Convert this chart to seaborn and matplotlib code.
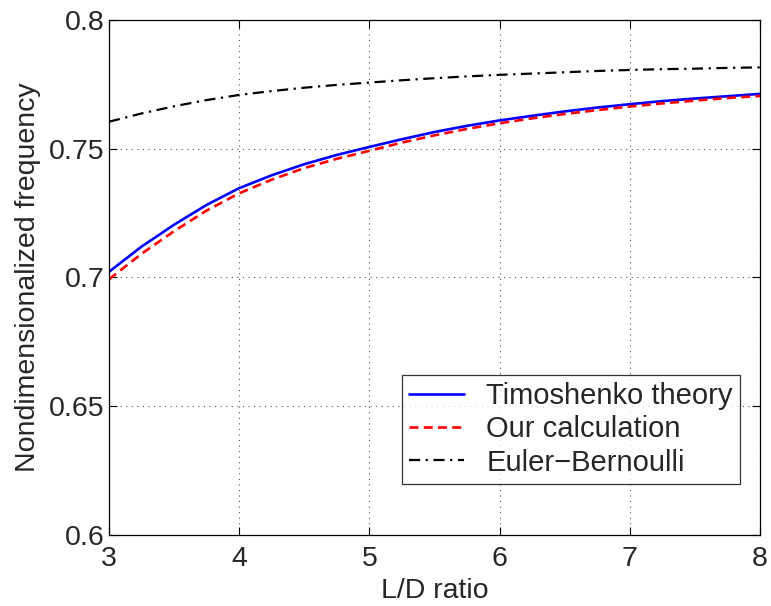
import numpy as np
import pandas as pd
import matplotlib
matplotlib.use("Agg")
import matplotlib.pyplot as plt
import seaborn as sns

# --- data ---
ld_ratio = [3, 3.25, 3.5, 3.75, 4, 4.25, 4.5, 4.75, 5, 5.25, 5.5, 5.75,
            6, 6.25, 6.5, 6.75, 7, 7.25, 7.5, 7.75, 8]
timoshenko = [0.7022, 0.7120, 0.7205, 0.7282, 0.7347, 0.7397, 0.7440, 0.7476,
              0.7507, 0.7537, 0.7565, 0.7589, 0.7610, 0.7628, 0.7645, 0.7660,
              0.7673, 0.7685, 0.7695, 0.7704, 0.7713]
our_calc = [0.6993, 0.7092, 0.7180, 0.7260, 0.7327, 0.7380, 0.7425, 0.7461,
            0.7492, 0.7524, 0.7552, 0.7577, 0.7599, 0.7618, 0.7635, 0.7650,
            0.7664, 0.7676, 0.7687, 0.7697, 0.7705]
euler_bernoulli = [0.7605, 0.7637, 0.7665, 0.7689, 0.7709, 0.7724, 0.7737, 0.7748,
                   0.7757, 0.7766, 0.7774, 0.7781, 0.7787, 0.7792, 0.7797, 0.7802,
                   0.7806, 0.7809, 0.7811, 0.7814, 0.7816]

x_ticks = [3, 4, 5, 6, 7, 8]
y_ticks = [0.6, 0.65, 0.7, 0.75, 0.8]
y_tick_labels = ["0.6", "0.65", "0.7", "0.75", "0.8"]

sns.set_style("white")
plt.rcParams["font.family"] = ["Liberation Sans", "DejaVu Sans"]

fig = plt.figure(figsize=(7.71, 6.06), dpi=100)
ax = fig.add_axes([0.1414, 0.1172, 0.8443, 0.8498])

sns.lineplot(x=ld_ratio, y=timoshenko, ax=ax, color="#0000ff", linewidth=1.9,
             label="Timoshenko theory")
sns.lineplot(x=ld_ratio, y=our_calc, ax=ax, color="#ff0000", linewidth=1.9,
             linestyle=(0, (3.4, 2.0)), label="Our calculation")
sns.lineplot(x=ld_ratio, y=euler_bernoulli, ax=ax, color="black", linewidth=1.6,
             linestyle=(0, (5, 2.5, 1, 2.5)), label="Euler\u2212Bernoulli")

ax.set_xlim(3, 8)
ax.set_ylim(0.6, 0.8)
ax.set_xticks(x_ticks)
ax.set_xticklabels([str(t) for t in x_ticks])
ax.set_yticks(y_ticks)
ax.set_yticklabels(y_tick_labels)

ax.grid(True, linestyle=(0, (1, 4)), color="#555555", linewidth=0.8)
ax.tick_params(direction="in", length=6, width=0.8, labelsize=20.5,
               top=True, right=True, bottom=True, left=True, color="black")
ax.tick_params(axis="x", pad=8)
ax.tick_params(axis="y", pad=3)
for s in ax.spines.values():
    s.set_color("black")
    s.set_linewidth(0.9)

ax.set_xlabel("L/D ratio", fontsize=20.5, labelpad=4)
ax.set_ylabel("Nondimensionalized frequency", fontsize=20.5, labelpad=6)

leg = ax.legend(loc="lower right", bbox_to_anchor=(0.9693, 0.099), borderaxespad=0,
                fontsize=21, frameon=True, fancybox=False, handlelength=1.9,
                handletextpad=0.75, labelspacing=0.18, borderpad=0.25)
leg.get_frame().set_edgecolor("black")
leg.get_frame().set_linewidth(0.9)

fig.savefig("out.png", dpi=100)
